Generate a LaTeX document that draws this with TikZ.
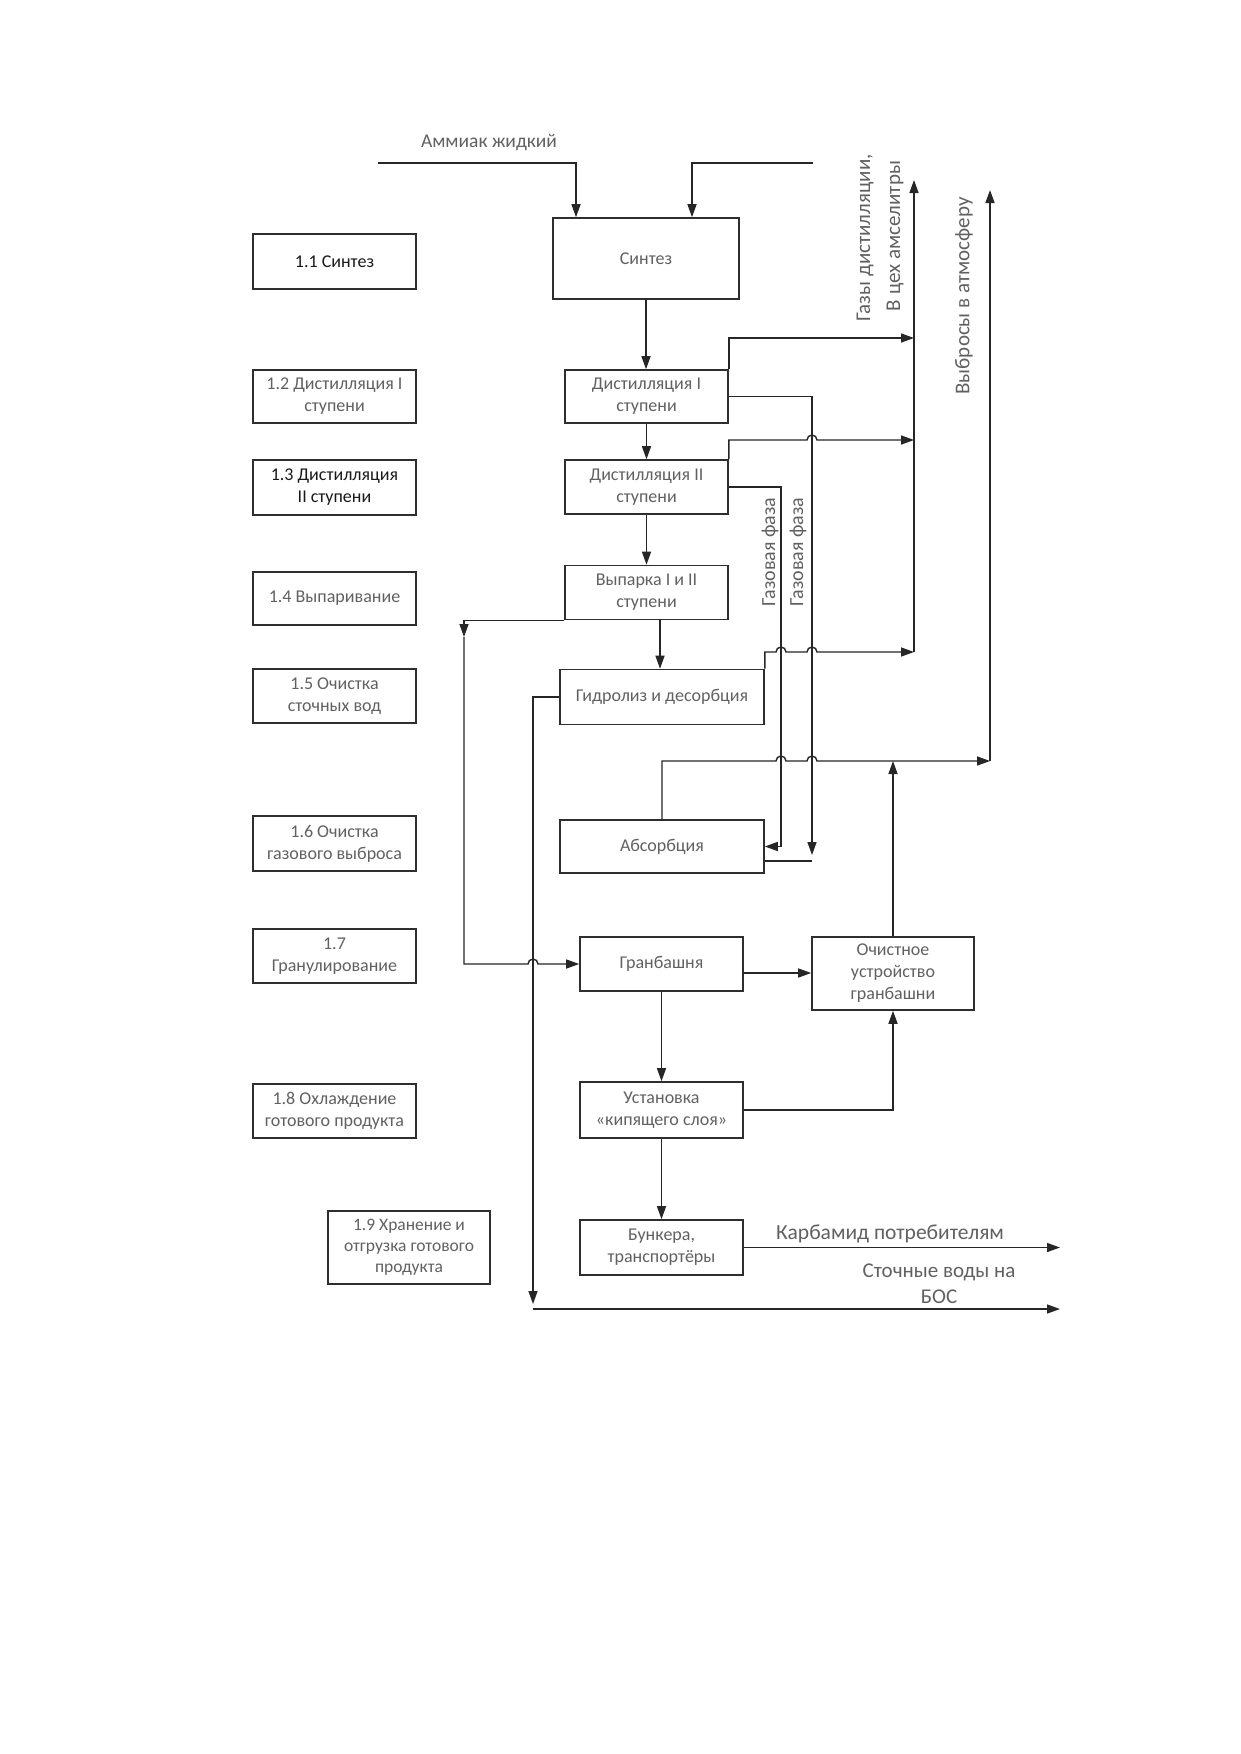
\documentclass[tikz,border=0pt]{standalone}
\usepackage{fontspec}
\setmainfont{Carlito}
\usetikzlibrary{arrows.meta}
\begin{document}
\begin{tikzpicture}[x=1pt,y=-1pt,
  box/.style={draw=black!82, line width=1.6pt, text=black!62, align=center, inner sep=0pt,
              font=\fontsize{18}{22}\selectfont},
  lbox/.style={box, minimum width=163pt},
  ln/.style={draw=black!85, line width=1.4pt},
  arr/.style={-{Triangle[length=13pt,width=9pt]}},
  lab/.style={text=black!62, inner sep=0pt, font=\fontsize{19.5}{22}\selectfont},
  rlab/.style={lab, rotate=90, font=\fontsize{21}{22}\selectfont}]
\useasboundingbox (0,0) rectangle (1240,1754);
\fill[white] (0,0) rectangle (1240,1754);

% left column
\node[lbox, minimum height=55pt, text=black!90] (l1) at (334.5,261.5) {1.1 Синтез};
\node[lbox, minimum height=53pt] (l2) at (334.5,396.5) {1.2 Дистилляция I\\ступени};
\node[lbox, minimum height=55pt, text=black!90] (l3) at (334.5,487.5) {1.3 Дистилляция\\II ступени};
\node[lbox, minimum height=53pt] (l4) at (334.5,598.5) {1.4 Выпаривание};
\node[lbox, minimum height=54pt] (l5) at (334.5,696) {1.5 Очистка\\сточных вод};
\node[lbox, minimum height=55pt] (l6) at (334.5,843.5) {1.6 Очистка\\газового выброса};
\node[lbox, minimum height=54pt] (l7) at (334.5,956) {1.7\\Гранулирование};
\node[lbox, minimum height=54pt] (l8) at (334.5,1111) {1.8 Охлаждение\\готового продукта};
\node[box, minimum width=162pt, minimum height=73pt, font=\fontsize{17.5}{21}\selectfont] (l9) at (409,1247.5) {1.9 Хранение и\\отгрузка готового\\продукта};

% process boxes
\node[box, minimum width=186pt, minimum height=81pt] (syn) at (646,258.5) {Синтез};
\node[box, minimum width=163pt, minimum height=53pt] (d1) at (646.5,396.5) {Дистилляция I\\ступени};
\node[box, minimum width=163pt, minimum height=54pt] (d2) at (646.5,487) {Дистилляция II\\ступени};
\node[box, minimum width=163pt, minimum height=54pt] (vyp) at (646.5,592.5) {Выпарка I и II\\ступени};
\node[box, minimum width=204pt, minimum height=55pt] (gid) at (662,697) {Гидролиз и десорбция};
\node[box, minimum width=204pt, minimum height=53pt] (abs) at (662,846.5) {Абсорбция};
\node[box, minimum width=163pt, minimum height=54pt] (gran) at (661.5,964) {Гранбашня};
\node[box, minimum width=162pt, minimum height=73pt] (och) at (893,973.5) {Очистное\\устройство\\гранбашни};
\node[box, minimum width=163pt, minimum height=56pt] (ust) at (661.5,1110) {Установка\\«кипящего слоя»};
\node[box, minimum width=163pt, minimum height=55pt] (bun) at (661.5,1247.5) {Бункера,\\транспортёры};

% coordinates
\coordinate (a1) at (378,163);
\coordinate (a2) at (813,163);
\coordinate (g1) at (914,338);
\coordinate (h1) at (807,440);
\coordinate (g2) at (914,440);
\coordinate (gB) at (812,855);
\coordinate (gB2) at (812,861);
\coordinate (gA) at (781,846.5);
\coordinate (v1) at (464,637);
\coordinate (h2) at (528,964);
\coordinate (s1) at (533,1304);
\coordinate (s2) at (533,1309);
\coordinate (s3) at (1060,1309);
\coordinate (h3) at (776,652);
\coordinate (h4) at (807,652);
\coordinate (g3) at (914,652);
\coordinate (h5) at (776,761);
\coordinate (h6) at (807,761);
\coordinate (g4) at (990,761);
\coordinate (t1) at (914,180);
\coordinate (t2) at (990,190);
\coordinate (ge) at (743,973);
\coordinate (k1) at (1060,1247.5);

% connectors
\draw[ln,arr] (a1) -| ([xshift=-70pt]syn.north);
\draw[ln,arr] (a2) -| ([xshift=46pt]syn.north);
\draw[ln,arr] (syn.south) -- (syn.south |- d1.north);
\draw[ln,arr] (d1.south) -- (d1.south |- d2.north);
\draw[ln,arr] (d2.south) -- (d2.south |- vyp.north);
\draw[ln,arr] ([xshift=13.5pt]vyp.south) -- ([xshift=-2pt]gid.north);

\draw[ln,arr] (d1.north east) |- (g1);
\draw[ln,arr] (d2.north east) |- (h1) arc[start angle=180,end angle=0,radius=5pt] -- (g2);
\draw[ln,arr] (d1.east) -| (gB);
\draw[ln] ([yshift=-14.5pt]abs.east) -- (gB2);
\draw[ln,arr] (d2.east) -| (gA) -- (abs.east);

\draw[ln,arr] (vyp.south west) -| (v1);
\draw[ln,arr] (v1) |- (h2) arc[start angle=180,end angle=0,radius=5pt] -- (gran.west);
\draw[ln,arr] (gid.west) -| (s1);
\draw[ln,arr] (s2) -- (s3);

\draw[ln,arr] (gid.north east) |- (h3) arc[start angle=180,end angle=0,radius=5pt] -- (h4) arc[start angle=180,end angle=0,radius=5pt] -- (g3);
\draw[ln,arr] (abs.north) |- (h5) arc[start angle=180,end angle=0,radius=5pt] -- (h6) arc[start angle=180,end angle=0,radius=5pt] -- (g4);
\draw[ln,arr] (g3) -- (t1);
\draw[ln,arr] (g4) -- (t2);

\draw[ln,arr] (och.north) -- (och.north |- g4);
\draw[ln,arr] (ge) -- (ge -| och.west);
\draw[ln,arr] (gran.south) -- (gran.south |- ust.north);
\draw[ln,arr] (ust.south) -- (ust.south |- bun.north);
\draw[ln,arr] (ust.east) -| (och.south);
\draw[ln,arr] (bun.east) -- (k1);

% labels
\node[lab] (tam) at (489,143) {Аммиак жидкий};
\node[rlab] (tg1) at (865,238) {Газы дистилляции,};
\node[rlab] (tg2) at (895,236) {В цех амселитры};
\node[rlab] (tvy) at (964,296) {Выбросы в атмосферу};
\node[rlab, font=\fontsize{20}{22}\selectfont] (tf1) at (770,552) {Газовая фаза};
\node[rlab, font=\fontsize{20}{22}\selectfont] (tf2) at (798,552) {Газовая фаза};
\node[lab, font=\fontsize{21.5}{24}\selectfont] (tk) at (890,1234) {Карбамид потребителям};
\node[lab, font=\fontsize{21}{24}\selectfont] (ts1) at (939,1272) {Сточные воды на};
\node[lab, font=\fontsize{21}{24}\selectfont] (ts2) at (939,1297) {БОС};
\end{tikzpicture}
\end{document}
